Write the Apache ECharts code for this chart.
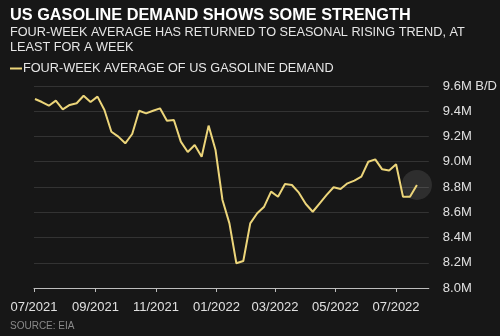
<!DOCTYPE html>
<html><head><meta charset="utf-8">
<script src="https://cdn.jsdelivr.net/npm/echarts@6/dist/echarts.min.js"></script>
<style>html,body{margin:0;padding:0;background:#171717;}#c{width:500px;height:336px;}</style>
</head><body><div id="c"></div>
<script>
const startDate = Date.UTC(2021, 6, 2); // first weekly reading (Friday)
const demand = [9.497,9.473,9.444,9.484,9.415,9.450,9.463,9.523,9.473,9.516,
  9.410,9.238,9.199,9.146,9.220,9.404,9.383,9.404,9.423,9.325,
  9.331,9.159,9.077,9.133,9.040,9.286,9.093,8.697,8.512,8.196,
  8.214,8.512,8.592,8.644,8.763,8.723,8.824,8.816,8.755,8.665,
  8.604,8.671,8.737,8.798,8.784,8.829,8.850,8.882,9.000,9.019,
  8.940,8.930,8.980,8.723,8.723,8.816];
const tickMonths = [[2021,6],[2021,8],[2021,10],[2022,0],[2022,2],[2022,4],[2022,6]];
const yTicks = [8.0,8.2,8.4,8.6,8.8,9.0,9.2,9.4,9.6];
const WEEK = 7*86400000;
const seriesData = demand.map((v,i)=>[startDate + i*WEEK, v]);
const tickValues = tickMonths.map(m=>Date.UTC(m[0], m[1], 1));
const fmtMonth = v => { const d = new Date(v); const m = d.getUTCMonth()+1; return (m<10?'0':'')+m+'/'+d.getUTCFullYear(); };
const chart = echarts.init(document.getElementById('c'));
chart.setOption({
  backgroundColor: '#171717',
  animation: false,
  title: [
    {text: 'US GASOLINE DEMAND SHOWS SOME STRENGTH', left: 5, top: 3,
     textStyle: {color: '#ffffff', fontSize: 16.3, fontWeight: 'bold', fontFamily: 'Liberation Sans'}},
    {text: 'FOUR-WEEK AVERAGE HAS RETURNED TO SEASONAL RISING TREND, AT\nLEAST FOR A WEEK', left: 5, top: 20,
     textStyle: {color: '#e6e6e6', fontSize: 12.7, fontWeight: 'normal', lineHeight: 15, fontFamily: 'Liberation Sans'}},
    {text: 'SOURCE: EIA', left: 5, top: 316,
     textStyle: {color: '#8a8a8a', fontSize: 10, fontWeight: 'normal', fontFamily: 'Liberation Sans'}}
  ],
  legend: {
    left: 5, top: 57, icon: 'rect', itemWidth: 12, itemHeight: 2, itemGap: 2,
    data: ['FOUR-WEEK AVERAGE OF US GASOLINE DEMAND'],
    textStyle: {color: '#e6e6e6', fontSize: 12.7, fontFamily: 'Liberation Sans', padding: [0,0,0,-4]}
  },
  grid: {left: 34, right: 68, top: 86, bottom: 48},
  xAxis: {
    type: 'value',
    min: Date.UTC(2021, 6, 1), max: Date.UTC(2022, 7, 3),
    axisLine: {show: true, lineStyle: {color: '#bdbdbd', width: 1}},
    axisTick: {show: true, customValues: tickValues, length: 4, lineStyle: {color: '#bdbdbd'}},
    axisLabel: {customValues: tickValues, formatter: fmtMonth, color: '#e0e0e0', fontSize: 13, margin: 13, fontFamily: 'Liberation Sans'},
    splitLine: {show: false}
  },
  yAxis: {
    type: 'value', position: 'right', min: 8.0, max: 9.6, interval: 0.2,
    axisLine: {show: false}, axisTick: {show: false},
    axisLabel: {color: '#e0e0e0', fontSize: 13, margin: 14, fontFamily: 'Liberation Sans',
      formatter: v => v.toFixed(1) + 'M' + (Math.abs(v-yTicks[yTicks.length-1])<1e-6 ? ' B/D' : '')},
    splitLine: {show: true, lineStyle: {color: '#333333', width: 1}}
  },
  series: [
    {name: 'FOUR-WEEK AVERAGE OF US GASOLINE DEMAND', type: 'line', data: seriesData,
     showSymbol: false, symbol: 'none', lineStyle: {color: '#ecd57a', width: 2}, itemStyle: {color: '#ecd57a'}},
    {type: 'scatter', data: [seriesData[seriesData.length-1]], symbolSize: 30, silent: true,
     itemStyle: {color: 'rgba(255,255,255,0.13)'}, z: 1}
  ]
});
</script></body></html>
